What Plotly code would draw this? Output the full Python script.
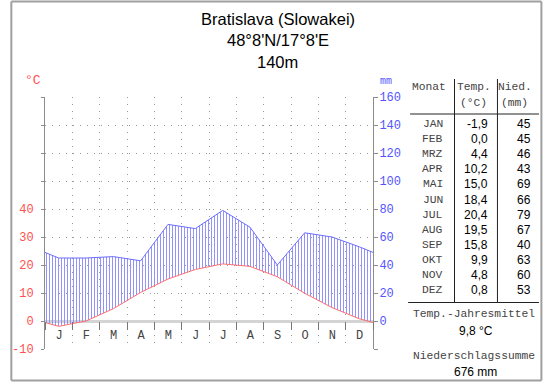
import plotly.graph_objects as go

# ---------------- data ----------------
title_lines = ["Bratislava (Slowakei)", "48°8'N/17°8'E", "140m"]
month_letters = ["J", "F", "M", "A", "M", "J", "J", "A", "S", "O", "N", "D"]
month_abbr = ["JAN", "FEB", "MRZ", "APR", "MAI", "JUN", "JUL", "AUG", "SEP", "OKT", "NOV", "DEZ"]
temp = [-1.9, 0.0, 4.4, 10.2, 15.0, 18.4, 20.4, 19.5, 15.8, 9.9, 4.8, 0.8]      # °C
precip = [45, 45, 46, 43, 69, 66, 79, 67, 40, 63, 60, 53]                      # mm
temp_tick_labels = [-10, 0, 10, 20, 30, 40]
precip_tick_labels = [0, 20, 40, 60, 80, 100, 120, 140, 160]

# ---------------- geometry (pixels) ----------------
W, H = 550, 384
PL, PR, PT, PB = 37, 373, 97, 349
T_MIN, T_MAX = -10, 80
P_MIN, P_MAX = -20, 160

def fx(x):
    return (x - PL) / (PR - PL)

def fy(y):
    return (PB - y) / (PB - PT)

MONO = "Liberation Mono, Courier New, monospace"
SANS = "Liberation Sans, Arial, sans-serif"
RED = "rgb(255,80,80)"
BLUE = "rgb(85,85,255)"
GRID = "#999999"
AXIS = "#8c8c8c"

# curves: month centres, closed at the year edges with the Dec/Jan mean
xs = [0] + [i + 0.5 for i in range(12)] + [12]
t_edge = (temp[0] + temp[-1]) / 2
p_edge = (precip[0] + precip[-1]) / 2
t_curve = [t_edge] + temp + [t_edge]
p_curve_mm = [p_edge] + precip + [p_edge]
scale = (T_MAX - T_MIN) / (P_MAX - P_MIN)  # mm -> °C axis units (20 mm = 10 °C)
p_curve = [v * scale for v in p_curve_mm]

fig = go.Figure()
fig.add_trace(go.Scatter(x=xs, y=t_curve, mode="lines",
                         line=dict(color="rgb(255,110,110)", width=1),
                         hoverinfo="skip", showlegend=False))
fig.add_trace(go.Scatter(x=xs, y=p_curve, mode="lines",
                         line=dict(color="rgb(110,110,255)", width=1),
                         fill="tonexty", fillcolor="rgba(0,0,0,0)",
                         fillpattern=dict(shape="|", size=3, solidity=0.3,
                                          fgcolor="rgb(135,135,255)",
                                          fillmode="replace"),
                         hoverinfo="skip", showlegend=False))
# dummy trace so the right axis is registered
fig.add_trace(go.Scatter(x=[None], y=[None], yaxis="y2", showlegend=False,
                         hoverinfo="skip"))

zero_pos = (0 - T_MIN) / (T_MAX - T_MIN)

fig.update_layout(
    width=W, height=H, autosize=False,
    margin=dict(l=PL, r=W - PR, t=PT, b=H - PB, pad=0),
    paper_bgcolor="white", plot_bgcolor="white",
    showlegend=False,
    xaxis=dict(range=[0, 12], tickvals=list(range(13)),
               ticktext=month_letters + [""],
               ticks="outside", ticklen=8, tickcolor="#777", tickwidth=1,
               ticklabelshift=14, ticklabelstandoff=-5,
               tickfont=dict(family=MONO, size=12, color="#444"),
               showgrid=True, gridcolor=GRID, griddash="1px,6px", gridwidth=1,
               showline=False, zeroline=False,
               anchor="free", position=zero_pos, fixedrange=True),
    yaxis=dict(range=[T_MIN, T_MAX], tickvals=list(range(T_MIN, T_MAX + 1, 10)),
               ticktext=[str(v) if v in temp_tick_labels else ""
                         for v in range(T_MIN, T_MAX + 1, 10)],
               ticks="outside", ticklen=3, tickcolor=AXIS,
               ticklabelstandoff=5,
               tickfont=dict(family=MONO, size=12, color=RED),
               showline=True, linecolor=AXIS, linewidth=1,
               showgrid=True, gridcolor=GRID, griddash="1px,6px", gridwidth=1,
               zeroline=True, zerolinecolor="#d4d4d4", zerolinewidth=3,
               fixedrange=True),
    yaxis2=dict(range=[P_MIN, P_MAX], overlaying="y", side="right", anchor="x",
                tickvals=list(range(P_MIN, P_MAX + 1, 20)),
                ticktext=[str(v) if v in precip_tick_labels else ""
                          for v in range(P_MIN, P_MAX + 1, 20)],
                ticks="outside", ticklen=4, tickcolor=AXIS,
                ticklabelstandoff=-1,
                tickfont=dict(family=MONO, size=12, color=BLUE),
                showline=True, linecolor=AXIS, linewidth=1,
                showgrid=False, zeroline=False, fixedrange=True),
)

ann = []

def text(x, y, s, font, size, color, xanchor="center"):
    ann.append(dict(x=fx(x), y=fy(y), xref="paper", yref="paper", text=s,
                    showarrow=False, xanchor=xanchor, yanchor="middle",
                    font=dict(family=font, size=size, color=color)))

# title
for i, line in enumerate(title_lines):
    text(275.5, 18.5 + 21.5 * i, line, SANS, 16.5, "black")

# axis units
text(25, 80, "°C", MONO, 13, RED)
text(386, 81, "mm", MONO, 10, BLUE)

# table header
TXT = "#444"
text(430, 87, "Monat", MONO, 11.3, TXT)
text(476, 87, "Temp.", MONO, 11.3, TXT)
text(476, 103, "(°C)", MONO, 11.3, TXT)
text(518, 87, "Nied.", MONO, 11.3, TXT)
text(518, 103, "(mm)", MONO, 11.3, TXT)

def fmt(v):
    return f"{v:.1f}".replace(".", ",")

for i in range(12):
    y = 124 + 15.1 * i
    text(446.5, y, month_abbr[i], MONO, 11.3, TXT, "right")
    text(492.5, y, fmt(temp[i]), SANS, 12, "black", "right")
    text(537, y, str(precip[i]), SANS, 12, "black", "right")

mean_t = sum(temp) / len(temp)
sum_p = sum(precip)
text(476, 314, "Temp.-Jahresmittel", MONO, 11.3, TXT)
text(478, 330.5, fmt(mean_t) + " °C", SANS, 12, "black")
text(476, 356, "Niederschlagssumme", MONO, 11.3, TXT)
text(478, 371.5, f"{sum_p} mm", SANS, 12, "black")

fig.update_layout(annotations=ann)

shapes = []

def line(x0, y0, x1, y1, color="#222", width=1):
    shapes.append(dict(type="line", xref="paper", yref="paper",
                       x0=fx(x0), y0=fy(y0), x1=fx(x1), y1=fy(y1),
                       line=dict(color=color, width=width)))

# table rules
line(411, 114, 543, 114)
line(409, 302.5, 543, 302.5)
line(456.5, 79, 456.5, 302.5)
line(500.5, 79, 500.5, 302.5)

# outer frame
line(2.5, 1.5, 545.5, 1.5, "#a0a0a0", 2)
line(2.5, 380.5, 545.5, 380.5, "#a0a0a0", 2)
line(2.5, 1.5, 2.5, 380.5, "#a0a0a0", 2)
line(545.5, 1.5, 545.5, 380.5, "#a0a0a0", 2)
fig.update_layout(shapes=shapes)

fig.write_html("out.html",
               config={"displayModeBar": False, "staticPlot": True},
               post_script="document.body.style.margin='0';"
                           "document.body.style.overflow='hidden';")
